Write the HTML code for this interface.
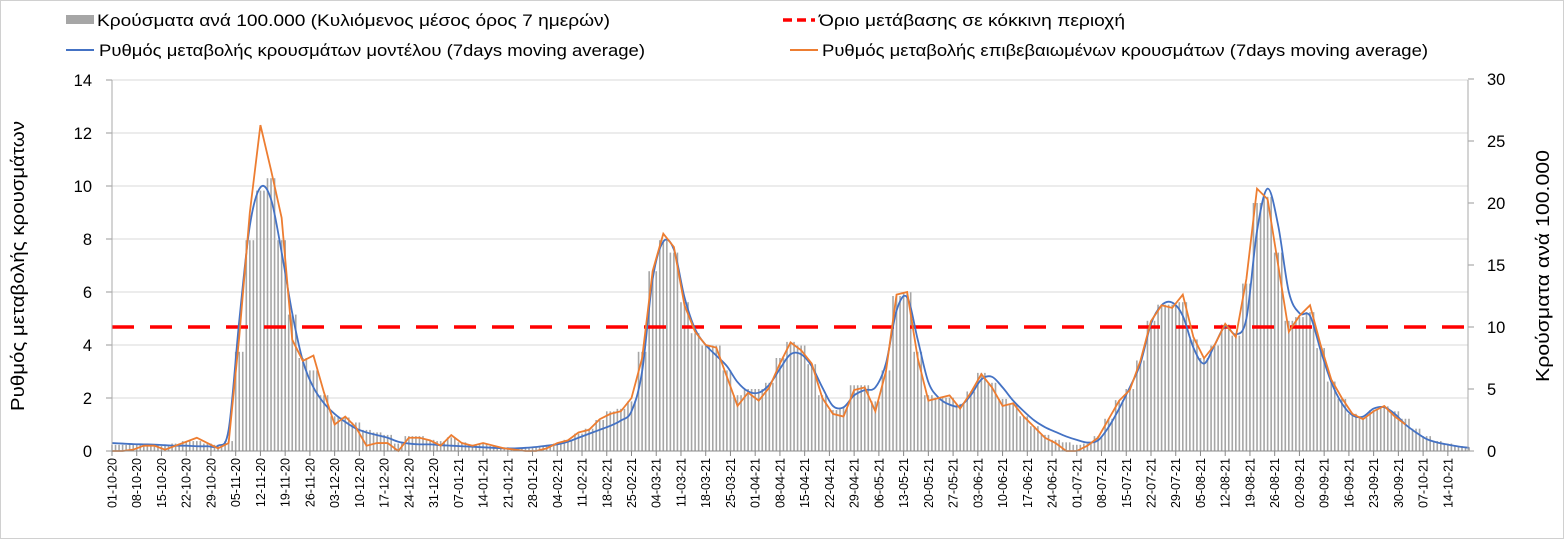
<!DOCTYPE html>
<html><head><meta charset="utf-8"><style>
body{margin:0;background:#fff;}
svg{display:block;font-family:"Liberation Sans",sans-serif;}
</style></head><body>
<svg id="chart" width="1564" height="539">
<rect x="0.5" y="0.5" width="1563" height="538" fill="#fff" stroke="#d0d0d0"/>
<g id="grid"></g>
<g id="bars"></g>
<line x1="112" y1="327" x2="1468" y2="327" stroke="#ff0000" stroke-width="3.5" stroke-dasharray="22,16"/>
<path id="blue" fill="none" stroke="#4472c4" stroke-width="1.8"/>
<path id="orange" fill="none" stroke="#ed7d31" stroke-width="1.8"/>
<g id="axes"></g>
<g font-size="17" fill="#000">
<rect x="66" y="15" width="28" height="9" fill="#a6a6a6"/>
<text x="97" y="26" textLength="513" lengthAdjust="spacingAndGlyphs">Κρούσματα ανά 100.000 (Κυλιόμενος μέσος όρος 7 ημερών)</text>
<line x1="783" y1="20" x2="815" y2="20" stroke="#ff0000" stroke-width="3.5" stroke-dasharray="9,5"/>
<text x="819" y="26" textLength="306" lengthAdjust="spacingAndGlyphs">Όριο μετάβασης σε κόκκινη περιοχή</text>
<line x1="66" y1="50" x2="94" y2="50" stroke="#4472c4" stroke-width="2"/>
<text x="99" y="56" textLength="546" lengthAdjust="spacingAndGlyphs">Ρυθμός μεταβολής κρουσμάτων μοντέλου (7days moving average)</text>
<line x1="790" y1="50" x2="818" y2="50" stroke="#ed7d31" stroke-width="2"/>
<text x="822" y="56" textLength="606" lengthAdjust="spacingAndGlyphs">Ρυθμός μεταβολής επιβεβαιωμένων κρουσμάτων (7days moving average)</text>
</g>
<text transform="translate(24,266) rotate(-90)" text-anchor="middle" font-size="18" textLength="290" lengthAdjust="spacingAndGlyphs">Ρυθμός μεταβολής κρουσμάτων</text>
<text transform="translate(1549,266) rotate(-90)" text-anchor="middle" font-size="18" textLength="232" lengthAdjust="spacingAndGlyphs">Κρούσματα ανά 100.000</text>
</svg>
<script>
const stepDays = 3;
const blueValues = [.30,.28,.26,.25,.24,.22,.2,.2,.18,.18,.2,.8,4.9,8.5,9.95,9.5,7.5,5.2,3.4,2.4,1.8,1.4,1.1,.85,.7,.6,.5,.35,.28,.25,.25,.22,.2,.18,.16,.14,.12,.1,.1,.12,.15,.2,.25,.35,.5,.65,.8,.95,1.15,1.5,3.0,6.5,7.9,7.6,5.8,4.6,4.0,3.6,3.2,2.6,2.25,2.2,2.5,3.1,3.65,3.65,3.2,2.4,1.7,1.65,2.1,2.3,2.4,3.3,5.3,5.8,4.2,2.6,2.0,1.75,1.7,2.1,2.7,2.8,2.4,1.9,1.5,1.15,.9,.72,.55,.42,.32,.4,.9,1.6,2.4,3.3,4.8,5.5,5.6,5.1,3.9,3.3,4.0,4.7,4.4,5.0,8.3,9.9,8.5,6.0,5.2,5.1,3.8,2.6,1.8,1.35,1.3,1.6,1.65,1.4,1.0,.7,.45,.32,.24,.17,.12];
const orangeValues = [0,0,.05,.2,.2,.05,.2,.35,.5,.3,.1,.3,4.3,9.0,12.3,10.6,8.8,4.2,3.4,3.6,2.2,1.0,1.3,.9,.2,.3,.3,0,.5,.5,.4,.2,.6,.3,.2,.3,.2,.1,.05,0,0,.1,.3,.4,.7,.8,1.2,1.4,1.5,2.0,3.5,6.8,8.2,7.7,5.5,4.5,4.0,3.9,2.8,1.7,2.2,1.9,2.4,3.3,4.1,3.8,3.3,2.0,1.4,1.3,2.3,2.4,1.5,3.0,5.9,6.0,3.5,1.9,2.0,2.1,1.6,2.2,2.9,2.4,1.7,1.8,1.3,.9,.5,.3,0,0,.2,.5,1.2,1.9,2.3,3.4,4.9,5.5,5.4,5.9,4.3,3.5,4.0,4.8,4.3,6.5,9.9,9.5,7.0,4.5,5.1,5.5,4.0,2.7,2.0,1.4,1.2,1.5,1.7,1.3,1.0];
const barValues = [.5,.5,.6,.6,.5,.4,.6,.8,.8,.6,.5,.8,8,17,21,22,17,11,7.5,6.5,4.5,2.8,2.7,2.3,1.7,1.5,1.3,.6,1.2,1.2,.9,.8,1.1,.7,.5,.6,.4,.3,.2,.2,.3,.4,.6,.9,1.4,1.8,2.5,3.2,3.4,4.0,8.0,14.5,17.0,16.0,12.0,9.5,8.5,8.5,6.5,4.5,5.0,5.0,5.5,7.5,8.8,8.5,7.0,4.5,3.3,3.5,5.3,5.3,4.0,6.5,12.5,12.8,8.0,4.5,4.3,4.3,3.8,4.8,6.3,5.5,4.2,3.8,2.8,2.0,1.3,.9,.7,.5,.6,1.2,2.6,4.1,5.0,7.3,10.5,11.8,11.8,12.0,9.0,7.5,8.5,10.2,9.3,13.5,20,20.5,16,10.5,10.8,11.2,8.3,5.6,4.2,3.0,2.7,3.3,3.6,3.2,2.6,1.8,1.2,.8,.6,.4,.3];
const leftTicks = ["0","2","4","6","8","10","12","14"];
const rightTicks = ["0","5","10","15","20","25","30"];
const dateLabels = ["01-10-20","08-10-20","15-10-20","22-10-20","29-10-20","05-11-20","12-11-20","19-11-20","26-11-20","03-12-20","10-12-20","17-12-20","24-12-20","31-12-20","07-01-21","14-01-21","21-01-21","28-01-21","04-02-21","11-02-21","18-02-21","25-02-21","04-03-21","11-03-21","18-03-21","25-03-21","01-04-21","08-04-21","15-04-21","22-04-21","29-04-21","06-05-21","13-05-21","20-05-21","27-05-21","03-06-21","10-06-21","17-06-21","24-06-21","01-07-21","08-07-21","15-07-21","22-07-21","29-07-21","05-08-21","12-08-21","19-08-21","26-08-21","02-09-21","09-09-21","16-09-21","23-09-21","30-09-21","07-10-21","14-10-21"];

const NS="http://www.w3.org/2000/svg";
const X0=112, PX_DAY=3.534, Y0=451;
const xDay=d=>X0+d*PX_DAY;
const yL=v=>Y0-v*(371/14);
const yR=v=>Y0-v*(372/30);
function mk(tag,parent){const e=document.createElementNS(NS,tag);document.getElementById(parent).appendChild(e);return e;}

leftTicks.forEach((t,i)=>{
  const v=+t, y=yL(v);
  if(v>0){const g=mk('line','grid');
    
    
    g.setAttribute('x1',X0);g.setAttribute('x2',1468);g.setAttribute('y1',y);g.setAttribute('y2',y);g.setAttribute('stroke','#d9d9d9');}
  const k=mk('line','axes');
  
  
  k.setAttribute('x1',X0-6);k.setAttribute('x2',X0);k.setAttribute('y1',y);k.setAttribute('y2',y);k.setAttribute('stroke','#999');
  const tx=mk('text','axes');
  
  
  tx.setAttribute('x',92);tx.setAttribute('y',y+6);tx.setAttribute('text-anchor','end');tx.setAttribute('font-size','16.5');tx.textContent=t;
});
rightTicks.forEach(t=>{
  const y=yR(+t);
  const k=mk('line','axes');
  
  
  k.setAttribute('x1',1468);k.setAttribute('x2',1474);k.setAttribute('y1',y);k.setAttribute('y2',y);k.setAttribute('stroke','#999');
  const tx=mk('text','axes');
  
  
  tx.setAttribute('x',1487);tx.setAttribute('y',y+6);tx.setAttribute('font-size','16.5');tx.textContent=t;
});
[[X0,'left-axis-line'],[1468,'right-axis-line']].forEach(([x,n])=>{
  const l=mk('line','axes');
  
  
  l.setAttribute('x1',x);l.setAttribute('x2',x);l.setAttribute('y1',80);l.setAttribute('y2',Y0);l.setAttribute('stroke','#aaa');
});
const xa=mk('line','axes');


xa.setAttribute('x1',X0);xa.setAttribute('x2',1468);xa.setAttribute('y1',Y0);xa.setAttribute('y2',Y0);xa.setAttribute('stroke','#888');
dateLabels.forEach((d,i)=>{
  const x=xDay(i*7);
  const k=mk('line','axes');
  
  
  k.setAttribute('x1',x);k.setAttribute('x2',x);k.setAttribute('y1',Y0);k.setAttribute('y2',Y0+5);k.setAttribute('stroke','#888');
  const tx=mk('text','axes');
  
  
  tx.setAttribute('transform','translate('+(x+4.5)+',458) rotate(-90)');tx.setAttribute('text-anchor','end');tx.setAttribute('font-size','12.5');tx.textContent=d;
});
const nDays=(barValues.length-1)*stepDays;
for(let d=0;d<=nDays;d++){
  const v=barValues[Math.round(d/stepDays)];
  const b=mk('rect','bars');
  
  
  const y=yR(v);
  b.setAttribute('x',xDay(d)-0.8);b.setAttribute('y',y);b.setAttribute('width',1.6);b.setAttribute('height',Y0-y);b.setAttribute('fill','#a6a6a6');
}
const bp=blueValues.map((v,i)=>[xDay(i*stepDays),yL(v)]);
let dStr='M'+bp[0][0]+','+bp[0][1];
for(let i=0;i<bp.length-1;i++){
  const p0=bp[Math.max(0,i-1)],p1=bp[i],p2=bp[i+1],p3=bp[Math.min(bp.length-1,i+2)];
  const c1=[p1[0]+(p2[0]-p0[0])/6,p1[1]+(p2[1]-p0[1])/6];
  const c2=[p2[0]-(p3[0]-p1[0])/6,p2[1]-(p3[1]-p1[1])/6];
  dStr+=' C'+c1.join(',')+' '+c2.join(',')+' '+p2.join(',');
}
document.getElementById('blue').setAttribute('d',dStr);
document.getElementById('orange').setAttribute('d',orangeValues.map((v,i)=>(i?'L':'M')+xDay(i*stepDays)+','+yL(v)).join(' '));
</script>
</body></html>
